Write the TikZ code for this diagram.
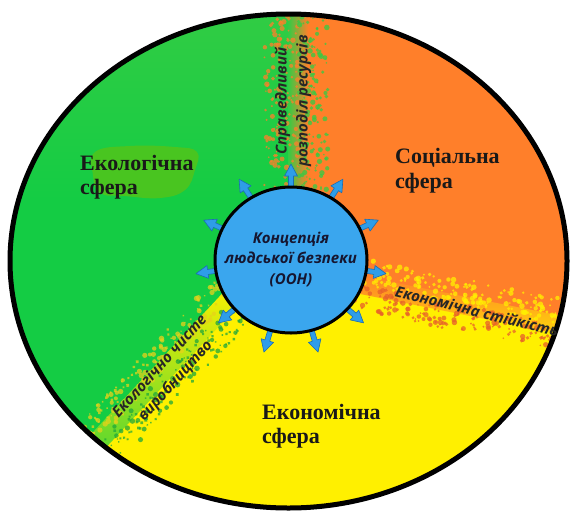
\documentclass[tikz,border=0pt]{standalone}
\usepackage{fontspec}
\setmainfont{Liberation Serif}
\newfontfamily\osans{Open Sans}
\definecolor{grn}{HTML}{14CC44}
\definecolor{grnlt}{HTML}{33CC44}
\definecolor{grndk}{HTML}{1FA83A}
\definecolor{org}{HTML}{FF7F2A}
\definecolor{orgdk}{HTML}{E8602A}
\definecolor{yel}{HTML}{FFF000}
\definecolor{yeldk}{HTML}{E6D21A}
\definecolor{blu}{HTML}{3AA6EE}
\definecolor{arr}{HTML}{2E9DE8}
\definecolor{arrd}{HTML}{1B6DB3}
\definecolor{blobc}{HTML}{52C41A}
\definecolor{ink}{HTML}{161630}
\tikzset{
  sphere/.style={anchor=base west, inner sep=0pt, font=\fontsize{22}{25}\selectfont\bfseries, text=black!90},
  edgelabel/.style={align=center, inner sep=0pt, text=black!85, font=\osans\fontsize{15}{21}\selectfont\bfseries\itshape},
  coretext/.style={align=center, inner sep=0pt, text=ink, font=\osans\fontsize{15}{20.5}\selectfont\bfseries\itshape},
  rayarrow/.style={fill=arr, draw=arrd, line width=0.6pt, line join=round},
  speck/.style={opacity=0.75}
}
\begin{document}
\begin{tikzpicture}[x=1pt,y=-1pt]
\pgfmathsetseed{11}
\useasboundingbox (0,0) rectangle (572,514);
\fill[white] (0,0) rectangle (572,514);
\begin{scope}
  \clip (288.5,261) ellipse [x radius=278.5, y radius=247];
  \fill[grn] (0,0) rectangle (572,514);
  \shade[top color=grnlt, bottom color=grn] (0,0) rectangle (300,200);
  \fill[org] (291,260) -- (298,180) -- (298,-20) -- (620,-20) -- (620,337) -- (366,286) -- cycle;
  \fill[yel] (291,260) -- (366,286) -- (620,337) -- (620,600) -- (-20,600) -- (-20,567) -- (228,302) -- cycle;
  % vertical green / orange band
  \shade[left color=grnlt, right color=org] (288,-5) rectangle (308,200);
  \foreach \k in {1,...,170}{
    \pgfmathsetmacro\px{298-rnd*34}
    \pgfmathsetmacro\py{rnd*200}
    \pgfmathsetmacro\pr{0.8+rnd*2}
    \fill[org, speck] (\px,\py) circle (\pr);
  }
  \foreach \k in {1,...,170}{
    \pgfmathsetmacro\px{298+rnd*30}
    \pgfmathsetmacro\py{rnd*200}
    \pgfmathsetmacro\pr{0.8+rnd*2}
    \fill[grnlt, speck] (\px,\py) circle (\pr);
  }
  % orange / yellow band
  \begin{scope}[shift={(366,286)}, rotate=-11.3]
    \shade[top color=org, bottom color=yel] (-20,-9) rectangle (300,9);
    \foreach \k in {1,...,200}{
      \pgfmathsetmacro\pu{rnd*240-10}
      \pgfmathsetmacro\pv{-rnd*26}
      \pgfmathsetmacro\pr{0.8+rnd*2}
      \fill[yel, speck] (\pu,\pv) circle (\pr);
    }
    \foreach \k in {1,...,200}{
      \pgfmathsetmacro\pu{rnd*240-10}
      \pgfmathsetmacro\pv{rnd*26}
      \pgfmathsetmacro\pr{0.8+rnd*2}
      \fill[orgdk, speck] (\pu,\pv) circle (\pr);
    }
  \end{scope}
  % green / yellow band
  \begin{scope}[shift={(228,302)}, rotate=-133]
    \shade[top color=yel, bottom color=grn] (-20,-10) rectangle (300,10);
    \foreach \k in {1,...,170}{
      \pgfmathsetmacro\pu{rnd*220-10}
      \pgfmathsetmacro\pv{rnd*26}
      \pgfmathsetmacro\pr{0.8+rnd*2}
      \fill[yeldk, speck] (\pu,\pv) circle (\pr);
    }
    \foreach \k in {1,...,170}{
      \pgfmathsetmacro\pu{rnd*220-10}
      \pgfmathsetmacro\pv{-rnd*30}
      \pgfmathsetmacro\pr{0.8+rnd*2}
      \fill[grndk, speck] (\pu,\pv) circle (\pr);
    }
  \end{scope}
\end{scope}
% blob behind the ecological label
\fill[blobc, opacity=0.85] plot[smooth cycle, tension=0.7] coordinates
  {(95,152) (130,146) (175,147) (197,152) (195,170) (185,190) (160,198) (125,196) (100,193) (93,175)};
% outer ellipse
\draw[line width=5pt] (288.5,261) ellipse [x radius=278.5, y radius=247];
% rays and core
\coordinate (c) at (291,260);
\foreach \i in {0,...,10}{
  \pgfmathsetmacro\ang{90-\i*360/11}
  \begin{scope}[shift={(c)}, rotate=\ang]
    \filldraw[rayarrow] (68,-2.5) -- (84,-2.5) -- (84,-6.5) -- (96,0) -- (84,6.5) -- (84,2.5) -- (68,2.5) -- cycle;
  \end{scope}
}
\filldraw[fill=blu, draw=black, line width=3pt] (c) ellipse [x radius=76, y radius=73];
\node[coretext] (core) at (291,259) {Концепція\\людської безпеки\\(ООН)};
% sector labels
\node[sphere] (eco1) at (80,170) {Екологічна};
\node[sphere] (eco2) at (80,194) {сфера};
\node[sphere] (soc1) at (395,163) {Соціальна};
\node[sphere] (soc2) at (395,188) {сфера};
\node[sphere] (ec1) at (262,419) {Економічна};
\node[sphere] (ec2) at (262,443) {сфера};
% boundary labels
\node[edgelabel, rotate=90] (res) at (293,101) {Справедливий\\розподіл ресурсів};
\node[edgelabel, rotate=-14] (stab) at (477,311) {Економічна стійкість};
\node[edgelabel, rotate=48] (clean) at (168,374) {Екологічно чисте\\виробництво};
\end{tikzpicture}
\end{document}
